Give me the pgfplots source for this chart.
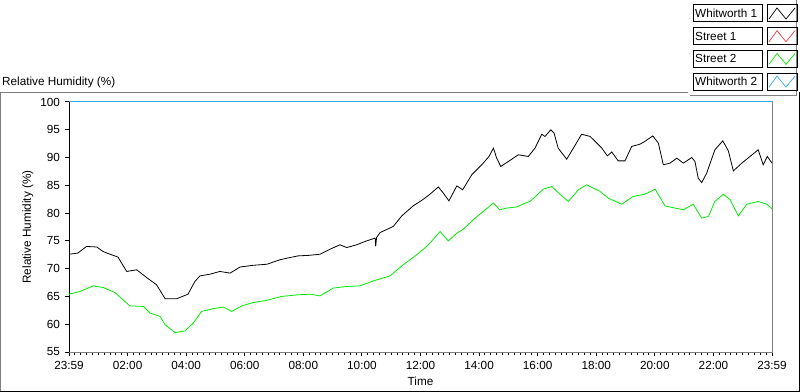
\documentclass[border=0pt]{standalone}
\usepackage{pgfplots}
\pgfplotsset{compat=1.18}
\usepackage{fontspec}
\setmainfont{Liberation Sans}
\definecolor{wblue}{RGB}{40,170,240}
\definecolor{sred}{RGB}{240,60,60}
\definecolor{sgreen}{RGB}{0,235,0}
\definecolor{frgray}{RGB}{128,128,128}
\begin{document}
\fontsize{11.8}{13}\selectfont
\begin{tikzpicture}
\useasboundingbox (0,0) rectangle (800bp,392bp);
% outer frame
\draw[frgray, line width=1bp] (0.5bp,0) -- (0.5bp,299.5bp) -- (688bp,299.5bp);
\draw[frgray, line width=1bp] (690bp,296.5bp) -- (796bp,296.5bp) -- (796bp,392bp);
\draw[black, line width=1bp] (0,0.5bp) -- (800bp,0.5bp);
\draw[black, line width=1bp] (799.5bp,0) -- (799.5bp,300bp);
% chart title
\node[anchor=west, inner sep=0pt] at (2bp,310bp) {Relative Humidity (\%)};
\begin{axis}[
  at={(69bp,40bp)}, anchor=south west,
  scale only axis, width=703bp, height=250bp,
  xmin=0, xmax=24, ymin=55, ymax=100,
  xtick={0,2,...,24},
  xticklabels={23:59,02:00,04:00,06:00,08:00,10:00,12:00,14:00,16:00,18:00,20:00,22:00,23:59},
  minor x tick num=9,
  ytick={55,60,...,100},
  tick align=outside, tick pos=left,
  major tick length=4bp, minor tick length=2.5bp,
  axis line style={frgray, line width=1bp},
  tick style={black, line width=1bp},
  /pgf/number format/assume math mode=true,
  ticklabel style={font=\fontsize{11.8}{13}\selectfont},
  xticklabel style={yshift=-1bp},
  yticklabel style={xshift=-1bp},
  xlabel={Time}, ylabel={Relative Humidity (\%)},
  label style={font=\fontsize{11.8}{13}\selectfont},
  xlabel style={yshift=0bp},
  ylabel style={yshift=-1bp},
  clip=false,
]
\draw[black, line width=1bp] (rel axis cs:0,0) -- (rel axis cs:0,1);
\draw[black, line width=1bp] (rel axis cs:0,1) -- (rel axis cs:1,1);
\addplot[wblue, line width=1bp] coordinates {(0,100) (24,100)};
% Whitworth 1
\addplot[black, line width=0.8bp] coordinates {
(0,72.6) (0.3,72.8) (0.6,74.0) (0.95,73.9) (1.16,73.1) (1.4,72.6) (1.67,72.1)
(1.97,69.5) (2.31,69.8) (2.65,68.4) (2.99,67.1) (3.28,64.6) (3.68,64.6)
(4.06,65.4) (4.30,67.7) (4.47,68.7) (4.81,69.0) (5.15,69.5) (5.50,69.2)
(5.84,70.3) (6.28,70.6) (6.76,70.8) (7.20,71.6) (7.54,72.0) (7.82,72.3)
(8.20,72.4) (8.57,72.6) (8.91,73.5) (9.25,74.3) (9.48,73.8) (9.82,74.3)
(10.16,75.0) (10.45,75.5) (10.47,74.0) (10.50,75.6) (10.62,76.5)
(11.07,77.6) (11.36,79.5) (11.75,81.3) (12.10,82.5) (12.32,83.4)
(12.61,84.7) (12.78,83.6) (12.97,82.2) (13.24,84.9) (13.44,84.2)
(13.75,86.9) (14.09,88.7) (14.34,90.2) (14.49,91.7) (14.60,89.9)
(14.74,88.4) (15.00,89.3) (15.34,90.5) (15.68,90.2) (15.91,91.7)
(16.14,94.2) (16.25,93.8) (16.45,95.0) (16.56,94.4) (16.70,91.7)
(16.99,89.7) (17.22,91.7) (17.50,94.2) (17.79,93.8) (18.02,92.6)
(18.19,91.7) (18.38,90.3) (18.53,91.0) (18.75,89.4) (18.98,89.4)
(19.21,92.0) (19.49,92.4) (19.66,92.9) (19.93,93.9) (20.12,92.6)
(20.29,88.7) (20.52,89.0) (20.75,89.9) (20.97,89.0) (21.26,90.0)
(21.37,89.3) (21.48,86.3) (21.60,85.5) (21.77,87.2) (22.05,91.4)
(22.32,93.0) (22.51,91.2) (22.68,87.6) (22.97,89.0) (23.25,90.2)
(23.53,91.4) (23.70,88.7) (23.84,90.2) (24,89.0)
};
% Street 2
\addplot[sgreen, line width=0.8bp] coordinates {
(0,65.4) (0.38,65.9) (0.83,66.9) (1.17,66.6) (1.57,65.7) (1.80,64.6)
(2.08,63.3) (2.54,63.2) (2.77,62.0) (3.11,61.4) (3.28,59.9) (3.62,58.5)
(3.96,58.8) (4.24,60.2) (4.53,62.3) (4.93,62.8) (5.27,63.1) (5.55,62.3)
(5.90,63.3) (6.29,63.9) (6.75,64.3) (7.26,65.0) (7.83,65.3) (8.23,65.4)
(8.57,65.1) (9.02,66.5) (9.48,66.8) (9.93,66.9) (10.39,67.8) (10.96,68.7)
(11.41,70.7) (11.87,72.5) (12.21,74.0) (12.44,75.3) (12.67,76.7)
(12.95,75.0) (13.24,76.4) (13.46,77.1) (13.80,78.8) (14.14,80.3)
(14.49,81.8) (14.71,80.6) (14.94,80.9) (15.28,81.1) (15.63,81.9)
(15.74,82.1) (16.19,84.3) (16.48,84.8) (16.76,83.4) (17.05,82.1)
(17.39,84.2) (17.67,85.1) (18.13,83.9) (18.41,82.7) (18.87,81.6)
(19.26,83.0) (19.66,83.4) (20.01,84.3) (20.35,81.3) (20.69,80.9)
(20.97,80.6) (21.31,81.6) (21.60,79.1) (21.83,79.4) (22.05,82.1)
(22.34,83.4) (22.57,82.4) (22.85,79.5) (23.14,81.6) (23.53,82.1)
(23.82,81.6) (24,80.8)
};
\end{axis}
% legend
\foreach \name/\col [count=\i from 0] in {Whitworth 1/black, Street 1/sred, Street 2/sgreen, Whitworth 2/wblue} {
  \pgfmathsetmacro{\top}{392-5-22.7*\i}
  \draw[black, line width=1bp] (693bp,\top bp) rectangle (762bp,\top bp-17bp);
  \node[anchor=west, inner sep=0pt] at (695bp,\top bp-8.5bp) {\name};
  \draw[black, line width=1bp] (767bp,\top bp) rectangle (797bp,\top bp-17bp);
  \draw[\col, line width=0.7bp] (769bp,\top bp-14bp) -- (777bp,\top bp-3bp) -- (786bp,\top bp-14bp) -- (795bp,\top bp-3bp);
}
\end{tikzpicture}
\end{document}
